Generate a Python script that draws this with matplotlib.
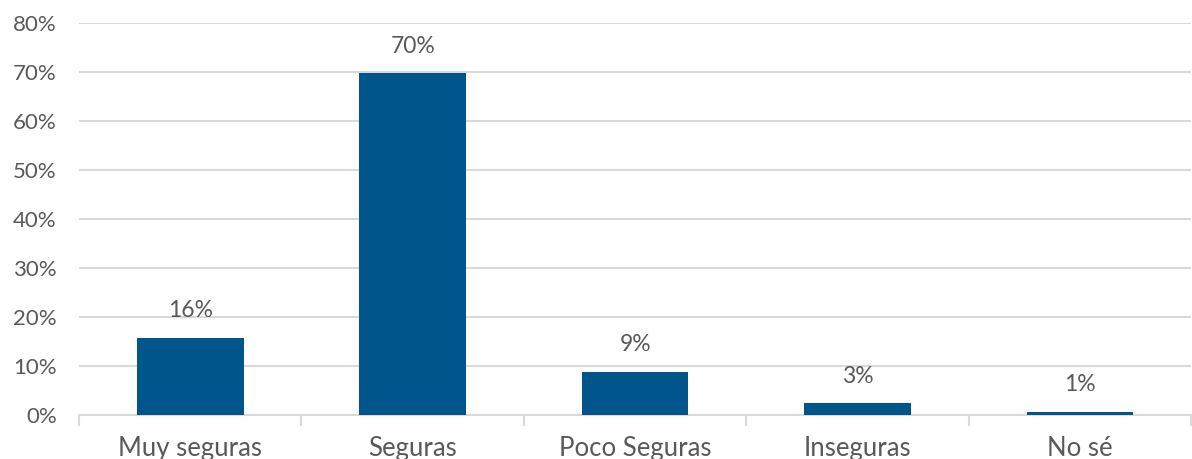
import matplotlib.pyplot as plt
from matplotlib.ticker import FixedLocator, PercentFormatter

categories = ["Muy seguras", "Seguras", "Poco Seguras", "Inseguras", "No sé"]
values = [15.8, 69.7, 8.8, 2.4, 0.7]
value_labels = ["16%", "70%", "9%", "3%", "1%"]

plt.rcParams["font.family"] = ["Lato", "DejaVu Sans"]
text_color = "#595959"
bar_color = "#00568A"
grid_color = "#d9d9d9"

fig = plt.figure(figsize=(11.92, 4.59), dpi=100)
ax = fig.add_axes([0.0663, 0.0959, 0.933, 0.8541])

x = range(len(categories))
bars = ax.bar(x, values, width=0.48, color=bar_color, zorder=3)

for xi, v, lab in zip(x, values, value_labels):
    ax.annotate(lab, (xi, v), xytext=(0, 27), textcoords="offset pixels",
                ha="center", va="center", fontsize=16.5, color=text_color)

ax.set_xlim(-0.5, len(categories) - 0.5)
ax.set_ylim(0, 80)
ax.set_yticks(range(0, 81, 10))
ax.yaxis.set_major_formatter(PercentFormatter(decimals=0))
ax.set_xticks(list(x))
ax.set_xticklabels(categories)
ax.xaxis.set_minor_locator(FixedLocator([i - 0.5 for i in range(len(categories) + 1)]))

ax.grid(axis="y", color=grid_color, lw=1.5, zorder=0)
ax.tick_params(axis="y", length=0, pad=16, labelsize=16, labelcolor=text_color)
ax.tick_params(axis="x", which="major", length=0, pad=15, labelsize=18.5, labelcolor=text_color)
ax.tick_params(axis="x", which="minor", length=8, width=1.5, color=grid_color)

for s in ["top", "right", "left"]:
    ax.spines[s].set_visible(False)
ax.spines["bottom"].set_color(grid_color)
ax.spines["bottom"].set_linewidth(1.5)

fig.savefig("out.png", dpi=100)
